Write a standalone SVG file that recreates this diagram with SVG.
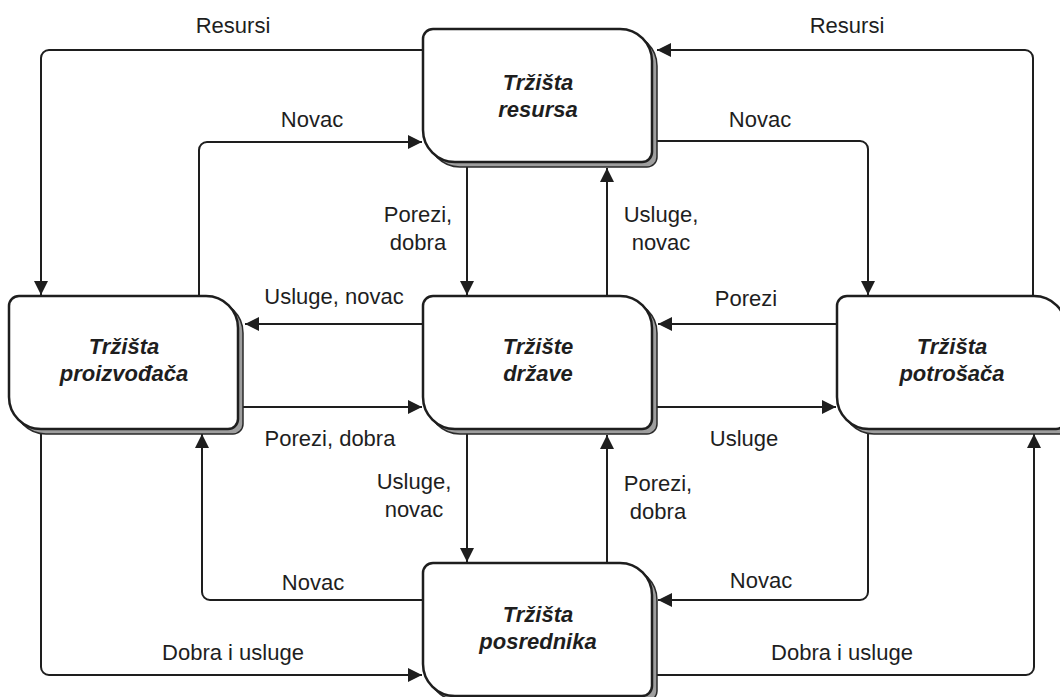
<svg xmlns="http://www.w3.org/2000/svg" xmlns:xlink="http://www.w3.org/1999/xlink" width="1060" height="697" viewBox="0 0 1060 697">
  <style>
    .shadow { fill: #9e9e9e; stroke: #2a2a2a; stroke-width: 1.5; }
    .box { fill: #ffffff; stroke: #1e1e1e; stroke-width: 2.5; }
    .title { font-family: "Liberation Sans", Arial, sans-serif; font-size: 22px; font-weight: bold; font-style: italic; fill: #1e1e1e; text-anchor: middle; }
    .flow { fill: none; stroke: #1e1e1e; stroke-width: 2; marker-end: url(#arrow); }
    .label { font-family: "Liberation Sans", Arial, sans-serif; font-size: 22px; fill: #1e1e1e; text-anchor: middle; }
  </style>
  <defs>
    <!-- market block: small radius top-left / bottom-right, large radius top-right / bottom-left -->
    <path id="block" d="M10,0 H197 A32 32 0 0 1 229,32 V123 A10 10 0 0 1 219,133 H32 A32 32 0 0 1 0,101 V10 A10 10 0 0 1 10,0 Z"/>
    <marker id="arrow" markerUnits="userSpaceOnUse" markerWidth="15" markerHeight="14" refX="14" refY="7" orient="auto">
      <path d="M0,0 L14,7 L0,14 Z" fill="#1e1e1e"/>
    </marker>
  </defs>

  <rect width="1060" height="697" fill="#ffffff"/>

  <!-- flows between markets -->
  <g id="connectors">
    <path class="flow" d="M423,50 H49 A8 8 0 0 0 41,58 V295"/>
    <path class="flow" d="M199,296 V150 A8 8 0 0 1 207,142 H422"/>
    <path class="flow" d="M1033,296 V58 A8 8 0 0 0 1025,50 H657"/>
    <path class="flow" d="M652,141 H860 A8 8 0 0 1 868,149 V295"/>
    <path class="flow" d="M467,162 V295"/>
    <path class="flow" d="M607,296 V168"/>
    <path class="flow" d="M423,324 H245"/>
    <path class="flow" d="M239,407 H422"/>
    <path class="flow" d="M837,324 H658"/>
    <path class="flow" d="M652,407 H836"/>
    <path class="flow" d="M467,429 V562"/>
    <path class="flow" d="M607,563 V435"/>
    <path class="flow" d="M423,600 H210 A8 8 0 0 1 202,592 V434"/>
    <path class="flow" d="M868,428 V592 A8 8 0 0 1 860,600 H658"/>
    <path class="flow" d="M41,428 V667 A8 8 0 0 0 49,675 H422"/>
    <path class="flow" d="M652,675 H1026 A8 8 0 0 0 1034,667 V434"/>
  </g>

  <!-- flow labels -->
  <g id="labels">
    <text class="label" x="233" y="33">Resursi</text>
    <text class="label" x="847" y="33">Resursi</text>
    <text class="label" x="312" y="127">Novac</text>
    <text class="label" x="760" y="127">Novac</text>
    <text class="label" x="418" y="222">Porezi,</text>
    <text class="label" x="418" y="250">dobra</text>
    <text class="label" x="661" y="222">Usluge,</text>
    <text class="label" x="661" y="250">novac</text>
    <text class="label" x="334" y="304">Usluge, novac</text>
    <text class="label" x="746" y="306">Porezi</text>
    <text class="label" x="330" y="446">Porezi, dobra</text>
    <text class="label" x="744" y="446">Usluge</text>
    <text class="label" x="414" y="489">Usluge,</text>
    <text class="label" x="414" y="517">novac</text>
    <text class="label" x="658" y="491">Porezi,</text>
    <text class="label" x="658" y="519">dobra</text>
    <text class="label" x="313" y="590">Novac</text>
    <text class="label" x="761" y="588">Novac</text>
    <text class="label" x="233" y="660">Dobra i usluge</text>
    <text class="label" x="842" y="660">Dobra i usluge</text>
  </g>

  <g id="trzista-resursa" transform="translate(423,29)">
    <use xlink:href="#block" class="shadow" x="5" y="5"/>
    <use xlink:href="#block" class="box"/>
    <text class="title" x="115" y="61">Tržišta</text>
    <text class="title" x="115" y="88">resursa</text>
  </g>

  <g id="trzista-proizvodaca" transform="translate(9,296)">
    <use xlink:href="#block" class="shadow" x="5" y="5"/>
    <use xlink:href="#block" class="box"/>
    <text class="title" x="115" y="58">Tržišta</text>
    <text class="title" x="115" y="85">proizvođača</text>
  </g>

  <g id="trziste-drzave" transform="translate(423,296)">
    <use xlink:href="#block" class="shadow" x="5" y="5"/>
    <use xlink:href="#block" class="box"/>
    <text class="title" x="115" y="58">Tržište</text>
    <text class="title" x="115" y="85">države</text>
  </g>

  <g id="trzista-potrosaca" transform="translate(837,296)">
    <use xlink:href="#block" class="shadow" x="5" y="5"/>
    <use xlink:href="#block" class="box"/>
    <text class="title" x="115" y="58">Tržišta</text>
    <text class="title" x="115" y="85">potrošača</text>
  </g>

  <g id="trzista-posrednika" transform="translate(423,563)">
    <use xlink:href="#block" class="shadow" x="5" y="5"/>
    <use xlink:href="#block" class="box"/>
    <text class="title" x="115" y="59">Tržišta</text>
    <text class="title" x="115" y="86">posrednika</text>
  </g>
</svg>
